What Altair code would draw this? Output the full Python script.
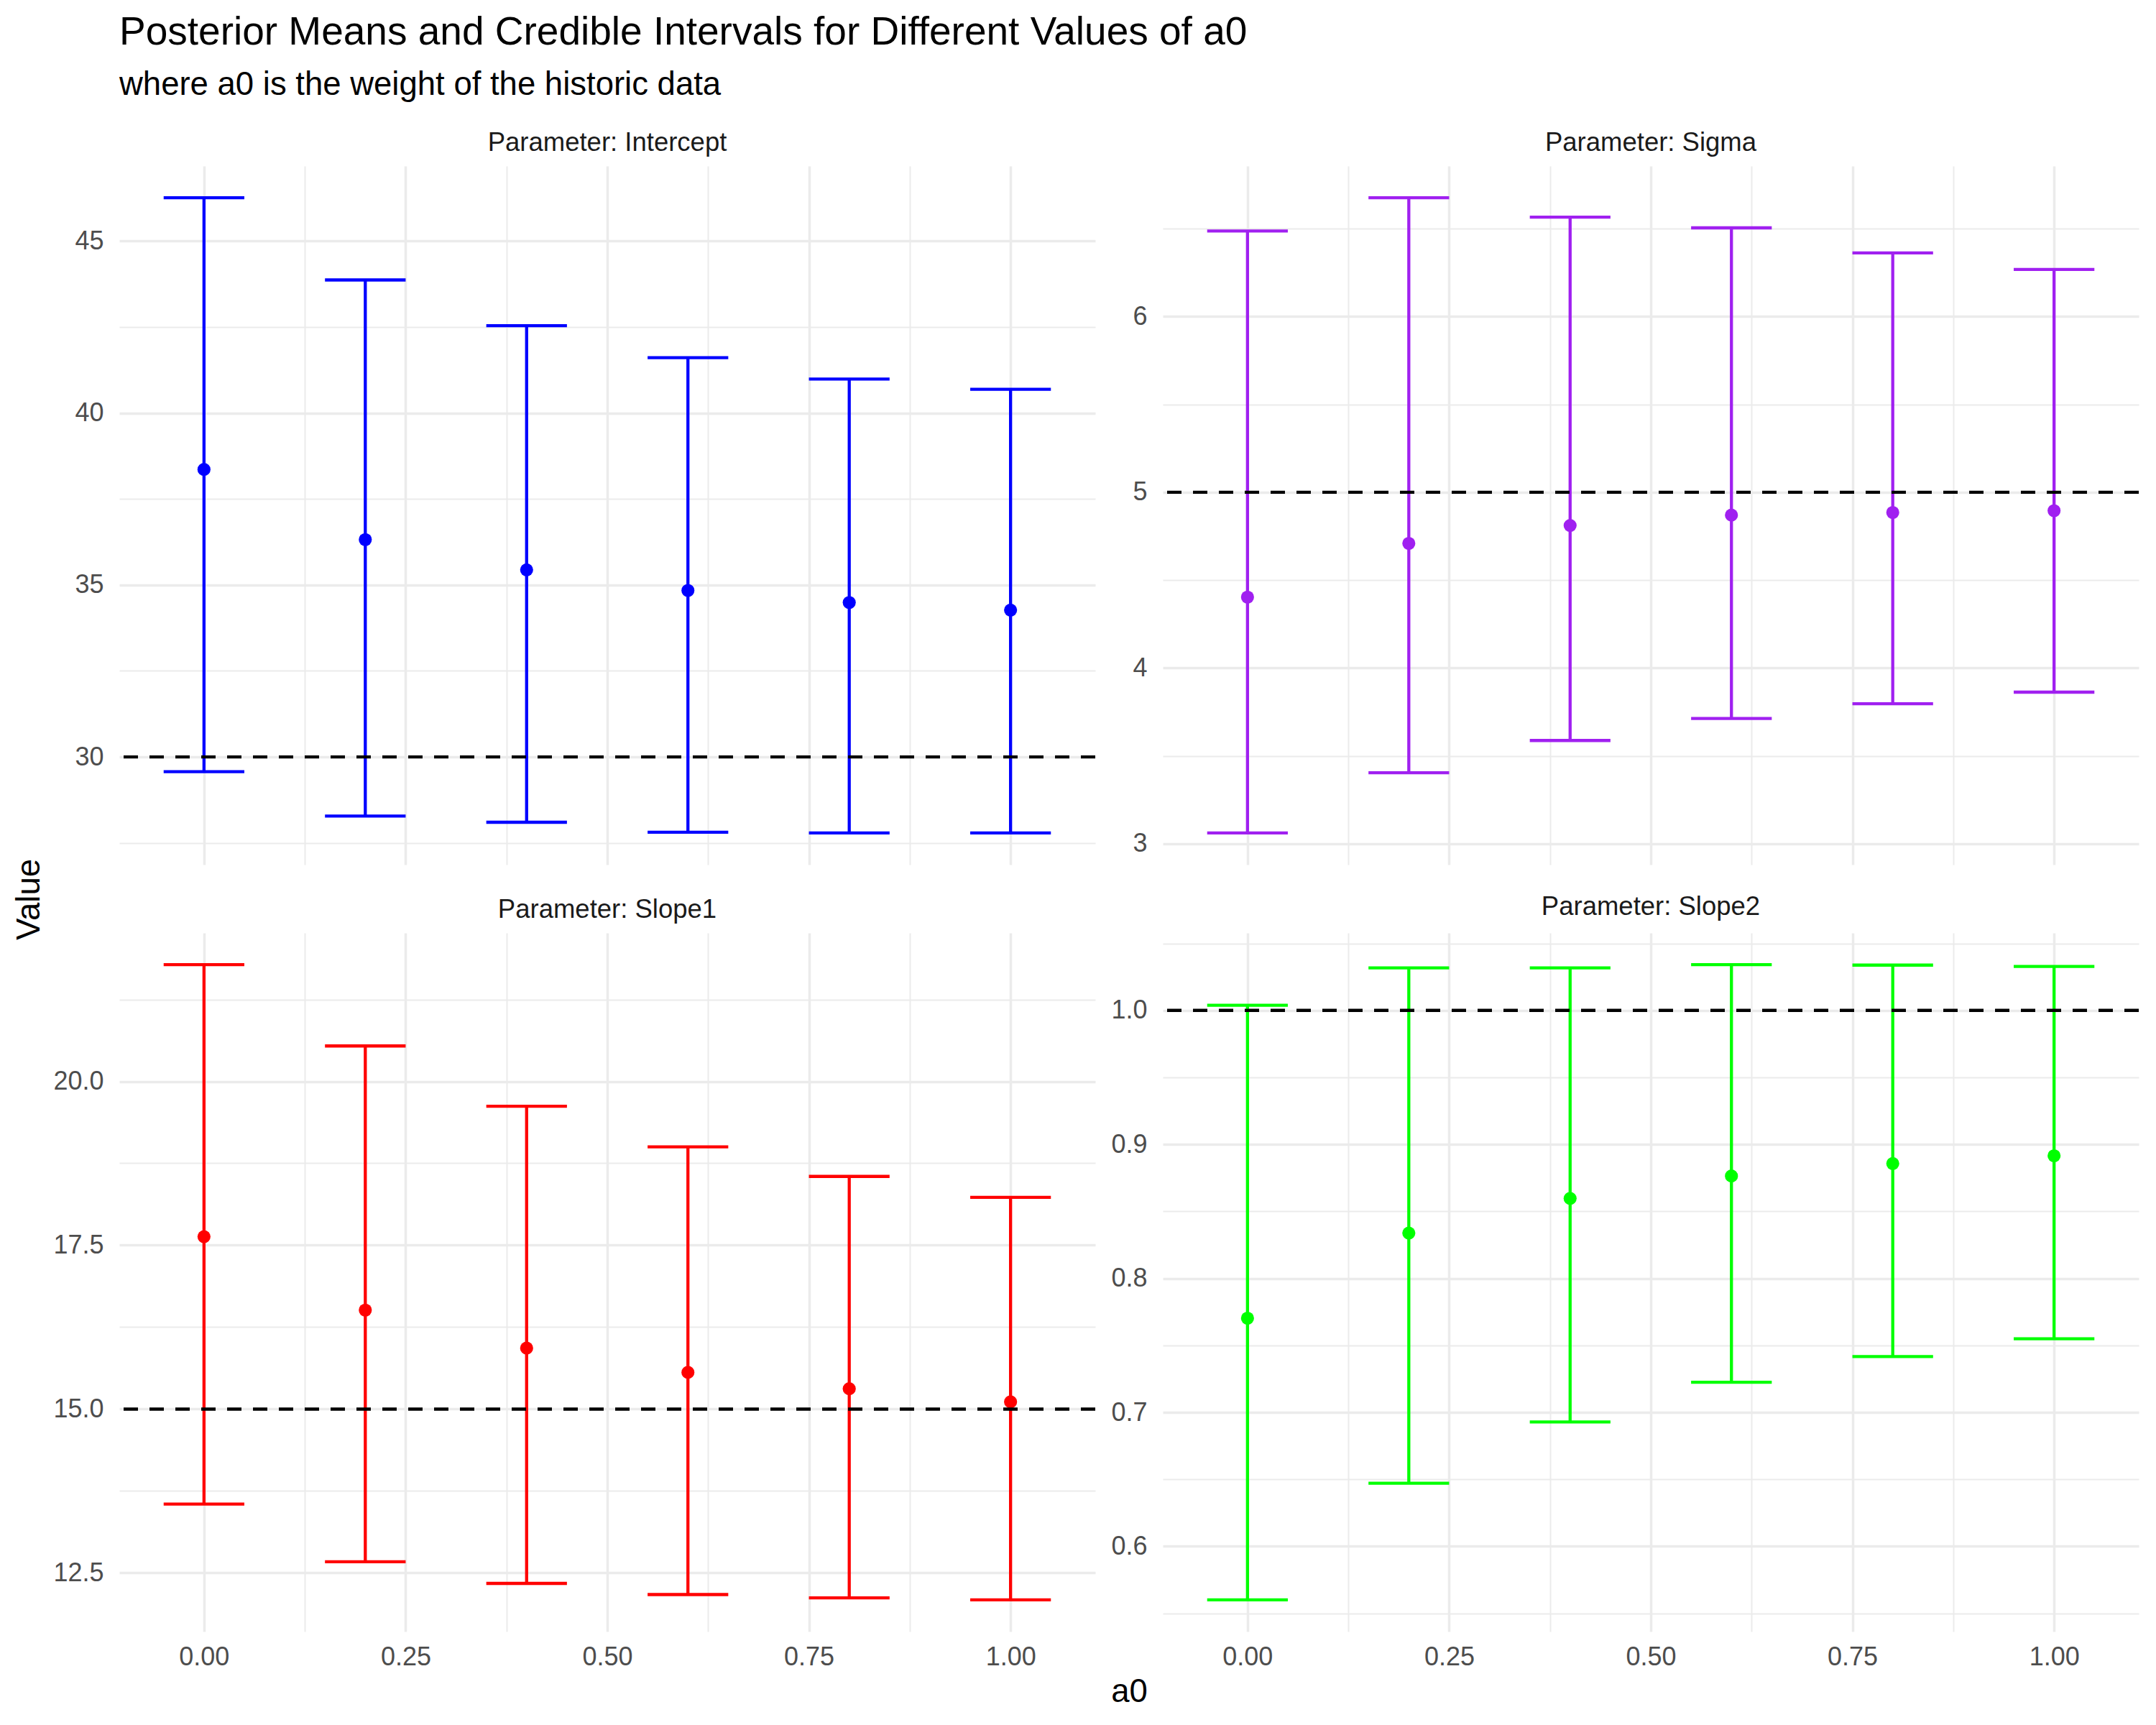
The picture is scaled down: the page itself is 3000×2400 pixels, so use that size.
import altair as alt
import pandas as pd

# ---------------- data ----------------
a0_values = [0.0, 0.2, 0.4, 0.6, 0.8, 1.0]
parameters = ["Intercept", "Sigma", "Slope1", "Slope2"]

intercept_mean = [38.36, 36.32, 35.44, 34.84, 34.49, 34.27]
intercept_lower = [29.57, 28.28, 28.10, 27.81, 27.79, 27.79]
intercept_upper = [46.26, 43.87, 42.54, 41.61, 40.99, 40.69]

sigma_mean = [4.403, 4.709, 4.811, 4.870, 4.885, 4.895]
sigma_lower = [3.061, 3.403, 3.587, 3.712, 3.796, 3.862]
sigma_upper = [6.487, 6.676, 6.566, 6.505, 6.362, 6.268]

slope1_mean = [17.63, 16.51, 15.93, 15.56, 15.31, 15.11]
slope1_lower = [13.55, 12.67, 12.34, 12.17, 12.12, 12.09]
slope1_upper = [21.78, 20.54, 19.62, 19.00, 18.55, 18.23]

slope2_mean = [0.7703, 0.8338, 0.8597, 0.8764, 0.8857, 0.8915]
slope2_lower = [0.5601, 0.6471, 0.6928, 0.7225, 0.7416, 0.7549]
slope2_upper = [1.0038, 1.0317, 1.0317, 1.0341, 1.0338, 1.0328]

true_values = [30, 5, 15, 1]
colors = ["#0000FF", "#A020F0", "#FF0000", "#00FF00"]

y_major = [[30, 35, 40, 45], [3, 4, 5, 6], [12.5, 15, 17.5, 20], [0.6, 0.7, 0.8, 0.9, 1.0]]
y_minor = [[27.5, 32.5, 37.5, 42.5], [3.5, 4.5, 5.5, 6.5],
           [13.75, 16.25, 18.75, 21.25], [0.55, 0.65, 0.75, 0.85, 0.95, 1.05]]
y_format = ["d", "d", ".1f", ".1f"]
x_major = [0, 0.25, 0.5, 0.75, 1.0]
x_minor = [0.125, 0.375, 0.625, 0.875]
errorbar_width = 0.1

means = [intercept_mean, sigma_mean, slope1_mean, slope2_mean]
lowers = [intercept_lower, sigma_lower, slope1_lower, slope2_lower]
uppers = [intercept_upper, sigma_upper, slope1_upper, slope2_upper]

# ---------------- style ----------------
FONT = "Liberation Sans"
PANEL_W = 1358
PANEL_H = 972
GRID = "#EBEBEB"
MAJOR_W = 3.5
MINOR_W = 2.0
LINE_W = 4.3


def expanded(lo, hi, frac=0.05):
    pad = (hi - lo) * frac
    return [lo - pad, hi + pad]


x_domain = expanded(min(a0_values) - errorbar_width / 2, max(a0_values) + errorbar_width / 2)


def grid_width(major):
    return {"condition": {"test": f"indexof({list(major)}, datum.value) >= 0", "value": MAJOR_W},
            "value": MINOR_W}


def label_expr(major, fmt):
    return f"indexof({list(major)}, datum.value) >= 0 ? format(datum.value, '{fmt}') : ''"


def panel(i, show_x_labels, y_title, x_title):
    df = pd.DataFrame({
        "a0": a0_values,
        "mean": means[i],
        "lower": lowers[i],
        "upper": uppers[i],
    })
    y_domain = expanded(min(lowers[i] + [true_values[i]]), max(uppers[i] + [true_values[i]]))

    x_axis_kwargs = dict(
        values=sorted(x_major + x_minor),
        grid=True, gridColor=GRID, gridWidth=grid_width(x_major),
        ticks=False, tickSize=0, domain=False,
        labels=show_x_labels, labelOverlap=False, labelFlush=False,
        labelExpr=label_expr(x_major, ".2f"),
        labelFont=FONT, labelFontSize=36, labelColor="#4D4D4D", labelPadding=18,
    )
    if x_title:
        x_axis_kwargs.update(title=x_title, titleFont=FONT, titleFontSize=45.5, titleColor="#000000",
                             titleFontWeight="normal", titleX=1405, titleY=97,
                             titleBaseline="alphabetic", titleAlign="center")
    else:
        x_axis_kwargs.update(title=None)
    x_axis = alt.Axis(**x_axis_kwargs)

    y_axis_kwargs = dict(
        values=sorted(y_major[i] + y_minor[i]),
        grid=True, gridColor=GRID, gridWidth=grid_width(y_major[i]),
        ticks=False, tickSize=0, domain=False,
        labelOverlap=False, labelFlush=False,
        labelExpr=label_expr(y_major[i], y_format[i]),
        labelFont=FONT, labelFontSize=36, labelColor="#4D4D4D", labelPadding=22,
    )
    if y_title:
        y_axis_kwargs.update(title=y_title, titleFont=FONT, titleFontSize=45.5, titleColor="#000000",
                             titleFontWeight="normal", titleX=-112, titleY=1020, titleAngle=270,
                             titleBaseline="alphabetic", titleAlign="center")
    else:
        y_axis_kwargs.update(title=None)
    y_axis = alt.Axis(**y_axis_kwargs)

    xs = alt.Scale(domain=x_domain, nice=False, zero=False)
    ys = alt.Scale(domain=y_domain, nice=False, zero=False)

    base = alt.Chart(df)
    col = colors[i]

    bars = base.mark_rule(color=col, strokeWidth=LINE_W).encode(
        x=alt.X("a0:Q", scale=xs, axis=x_axis),
        y=alt.Y("lower:Q", scale=ys, axis=y_axis),
        y2="upper:Q",
    )
    whiskers = base.transform_fold(
        ["lower", "upper"], as_=["bound", "yv"]
    ).transform_calculate(
        x_lo=f"datum.a0 - {errorbar_width / 2}",
        x_hi=f"datum.a0 + {errorbar_width / 2}",
    ).mark_rule(color=col, strokeWidth=LINE_W).encode(
        x=alt.X("x_lo:Q", scale=xs, axis=x_axis),
        x2="x_hi:Q",
        y=alt.Y("yv:Q", scale=ys, axis=y_axis),
    )
    points = base.mark_circle(color=col, size=330, opacity=1).encode(
        x=alt.X("a0:Q", scale=xs, axis=x_axis),
        y=alt.Y("mean:Q", scale=ys, axis=y_axis),
    )
    ref = alt.Chart(pd.DataFrame({"true": [true_values[i]]})).mark_rule(
        color="#000000", strokeWidth=4.4, strokeDash=[20, 16]
    ).encode(
        y=alt.Y("true:Q", scale=ys, axis=y_axis),
    )

    return alt.layer(bars, whiskers, points, ref).properties(
        width=PANEL_W,
        height=PANEL_H,
        title=alt.TitleParams(
            text=f"Parameter: {parameters[i]}",
            font=FONT, fontSize=36.5, fontWeight="normal", color="#1A1A1A",
            anchor="middle", offset=14,
        ),
    )


charts = [
    panel(0, False, "Value", None),
    panel(1, False, None, None),
    panel(2, True, None, "a0"),
    panel(3, True, None, None),
]

chart = alt.concat(
    *charts, columns=2, spacing={"row": 95, "column": 94}, bounds="flush"
).properties(
    title=alt.TitleParams(
        text="Posterior Means and Credible Intervals for Different Values of a0",
        subtitle="where a0 is the weight of the historic data",
        font=FONT, fontSize=55, fontWeight="normal", color="#000000",
        subtitleFont=FONT, subtitleFontSize=45.5, subtitleColor="#000000",
        anchor="start", frame="group", offset=38, subtitlePadding=22,
    ),
    padding={"left": 18, "top": 18, "right": 20, "bottom": 20},
    background="white",
).configure_view(stroke=None)

chart.save("out.html", embed_options={"renderer": "svg", "actions": False})
